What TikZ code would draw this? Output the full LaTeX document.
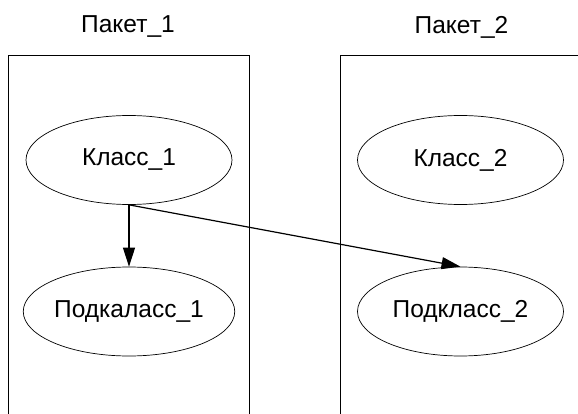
\documentclass[tikz,border=0pt]{standalone}
\usepackage{fontspec}
\setmainfont{Liberation Sans}
\usetikzlibrary{shapes.geometric,arrows.meta}
\begin{document}
\begin{tikzpicture}[x=1pt,y=-1pt,
  pkg/.style={draw,line width=0.9pt,rectangle,inner sep=0pt},
  cls/.style={draw,line width=0.7pt,ellipse,inner sep=0pt,minimum width=206pt,minimum height=89pt,font=\fontsize{24.5}{28}\selectfont},
  ttl/.style={inner sep=0pt,font=\fontsize{24.5}{28}\selectfont},
  arr/.style={line width=1.2pt,-{Triangle[length=19pt,width=12pt]}}]
\useasboundingbox (0,0) rectangle (578,414);
\clip (0,0) rectangle (578,414);
\fill[white] (0,0) rectangle (578,414);
\node[pkg,minimum width=240.5pt,minimum height=380pt] (p1) at (128.75,245) {};
\node[pkg,minimum width=243pt,minimum height=380pt] (p2) at (461.5,245) {};
\node[ttl] (t1) at (128,27) {Пакет\_1};
\node[ttl] (t2) at (461.5,27) {Пакет\_2};
\node[cls] (k1) at (129,160) {Класс\_1};
\node[cls] (k2) at (460.5,160) {Класс\_2};
\node[cls] (s1) at (129,311.5) {Подкаласс\_1};
\node[cls] (s2) at (460.5,311.5) {Подкласс\_2};
\draw[arr] (k1.south) -- (s1.north);
\draw[arr] (k1.south) -- (s2.north);
\end{tikzpicture}
\end{document}
